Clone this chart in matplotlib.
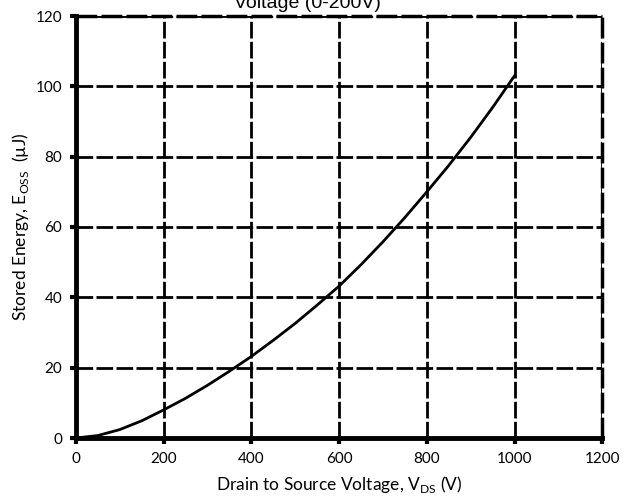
import matplotlib
matplotlib.use("Agg")
import matplotlib.pyplot as plt

# Stored energy curve
vds = [0, 50, 100, 150, 200, 250, 300, 350, 400, 450, 500, 550, 600, 650, 700, 750, 800, 850, 900, 950, 1000]
eoss = [0, 0.7, 2.4, 4.9, 8.0, 11.3, 15.0, 19.0, 23.2, 27.8, 32.6, 37.8, 43.2, 49.3, 55.8, 62.7, 70.0, 77.5, 85.5, 94.0, 103.0]

x_ticks = [0, 200, 400, 600, 800, 1000, 1200]
y_ticks = [0, 20, 40, 60, 80, 100, 120]

plt.rcParams['font.family'] = ['Lato', 'DejaVu Sans']

fig = plt.figure(figsize=(6.28, 5.0), dpi=100)
ax = fig.add_axes([0.121, 0.124, 0.838, 0.844])

ax.plot(vds, eoss, color="black", lw=2.0, zorder=5)

ax.set_xlim(0, 1200)
ax.set_ylim(0, 120)
ax.set_xticks(x_ticks)
ax.set_yticks(y_ticks)
ax.grid(True, color="black", lw=2.0, linestyle=(0, (6, 1.2)))

for side in ["left", "bottom"]:
    ax.spines[side].set_linewidth(3.5)
for side in ["top", "right"]:
    ax.spines[side].set_visible(False)
# top/right drawn as dashed lines like the gridlines
ax.axhline(120, color="black", lw=2.5, linestyle=(0, (6, 1.2)), clip_on=False)
ax.axvline(1200, color="black", lw=2.5, linestyle=(0, (6, 1.2)), clip_on=False)

ax.tick_params(direction="out", length=4, width=3, labelsize=11, pad=6)

ax.set_xlabel("Drain to Source Voltage, V$_{\\mathregular{DS}}$ (V)", fontsize=12.5, labelpad=6)
ax.set_ylabel("Stored Energy, E$_{\\mathregular{OSS}}$  (\u00b5J)", fontsize=12.5, labelpad=3)

# title is cut off at the top edge in the reference
fig.text(0.49, 0.994, "Voltage (0-200V)", ha="center", va="center",
         fontsize=14, family="Liberation Sans")

fig.savefig("out.png", dpi=100)
